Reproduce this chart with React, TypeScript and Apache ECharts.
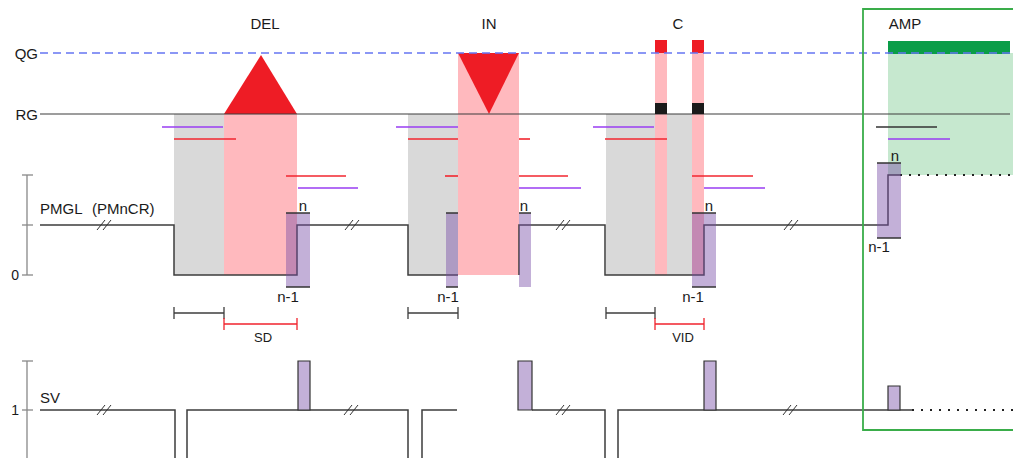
import React, { useEffect, useRef } from "react";
import * as echarts from "echarts";

const W = 1013;
const H = 458;

// Schematic in diagram units (x: genome position, y: track level, top = 0)
const grayRegions = [[174, 114, 224, 275], [408, 114, 458, 275], [606, 114, 692, 275]];
const pinkRegions = [[224, 114, 297, 275], [458, 53, 519, 275], [655, 40, 667, 275], [692, 40, 704, 275]];
const ampLight = [[888, 53, 1013, 175]];
const ampDark = [[888, 41, 1010, 54]];
const blackSquares = [[655, 103, 667, 114], [692, 103, 704, 114]];
const redCaps = [[655, 40, 667, 53], [692, 40, 704, 53]];
const delTriangle = [[224, 114], [261, 55], [297, 114]];
const inTriangle = [[458, 53], [519, 53], [489, 114]];

// purple read-depth blocks [x0, yTop, x1, yBottom, topCap, bottomCap]
const pmglBlocks = [
  [286, 213, 310, 287, 1, 1],
  [446, 213, 458, 287, 1, 1],
  [519, 213, 531, 287, 1, 0],
  [692, 213, 716, 287, 1, 1],
  [877, 163, 901, 238, 1, 1],
];
const svBlocks = [[298, 361, 310, 410], [518, 361, 532, 410], [704, 361, 716, 410], [888, 386, 900, 410]];

const redLines = [
  [174, 139, 236], [286, 176, 346],
  [408, 139, 458], [519, 139, 530], [445, 176, 458], [519, 176, 568],
  [605, 139, 667], [692, 176, 753],
];
const purpleLines = [[162, 127, 223], [298, 188, 358], [396, 127, 458], [519, 188, 581], [593, 127, 654], [704, 188, 765], [888, 139, 950]];
const blackLines = [[876, 127, 937]];

const pmglPaths = [
  [[40, 225], [174, 225], [174, 275], [297, 275], [297, 225], [408, 225], [408, 275], [458, 275]],
  [[519, 275], [519, 225], [605, 225], [605, 275], [704, 275], [704, 225], [888, 225], [888, 175], [900, 175]],
];
const svPaths = [
  [[40, 410], [175, 410], [175, 462]],
  [[187, 462], [187, 410], [408, 410], [408, 462]],
  [[422, 462], [422, 410], [457, 410]],
  [[532, 410], [605, 410], [605, 462]],
  [[618, 462], [618, 410], [912, 410]],
];
const dottedPaths = [[[900, 175], [1013, 175]], [[912, 410], [1013, 410]]];
const rgPath = [[[40, 114], [1010, 114]]];
const qgPath = [[[40, 53], [1013, 53]]];
const axisPaths = [
  [[27, 175], [27, 275]], [[22, 175], [33, 175]], [[22, 225], [33, 225]], [[22, 275], [33, 275]],
  [[27, 361], [27, 462]], [[22, 361], [33, 361]], [[22, 410], [33, 410]],
];
const breakCenters = [[104, 225], [352, 225], [563, 225], [791, 225], [104, 410], [351, 410], [563, 410], [790, 410]];
const blackBars = [[174, 224, 313], [408, 458, 313], [606, 655, 313]];
const redBars = [[224, 297, 324], [655, 704, 324]];
const greenBox = [[863, 9, 1022, 430]];

// texts [x, y, label, align, size]
const labels: [number, number, string, string, number][] = [
  [265, 23, "DEL", "center", 15],
  [489, 23, "IN", "center", 15],
  [678, 23, "C", "center", 15],
  [905, 23, "AMP", "center", 15],
  [38, 53, "QG", "right", 15],
  [38, 114, "RG", "right", 15],
  [40, 208, "PMGL", "left", 15],
  [92, 208, "(PMnCR)", "left", 15],
  [40, 397, "SV", "left", 15],
  [19, 275, "0", "right", 14],
  [19, 410, "1", "right", 14],
  [303, 205, "n", "center", 15],
  [524, 205, "n", "center", 15],
  [709, 205, "n", "center", 15],
  [895, 155, "n", "center", 15],
  [288, 296, "n-1", "center", 15],
  [448, 296, "n-1", "center", 15],
  [693, 296, "n-1", "center", 15],
  [879, 246, "n-1", "center", 15],
  [263, 337, "SD", "center", 13],
  [683, 337, "VID", "center", 13],
];

const FONT = "'Liberation Sans', Arial, Helvetica, sans-serif";
const DARK = "#3d3d3d";

function rectSeries(arr: number[][], style: any, z = 1) {
  return {
    type: "custom",
    z,
    clip: false,
    data: arr.map((r) => [r[0], r[1]]),
    renderItem: (params: any, api: any) => {
      const r = arr[params.dataIndex];
      const p0 = api.coord([r[0], r[1]]);
      const p1 = api.coord([r[2], r[3]]);
      return {
        type: "rect",
        shape: { x: p0[0], y: Math.min(p0[1], p1[1]), width: p1[0] - p0[0], height: Math.abs(p1[1] - p0[1]) },
        style,
      };
    },
  };
}

function polySeries(paths: number[][][], style: any, z = 3, closed = false) {
  return {
    type: "custom",
    z,
    clip: false,
    data: paths.map((p) => [p[0][0], p[0][1]]),
    renderItem: (params: any, api: any) => {
      const pts = paths[params.dataIndex].map((p) => api.coord(p));
      return { type: closed ? "polygon" : "polyline", shape: { points: pts }, style };
    },
  };
}

const hLines = (arr: number[][]) => arr.map((l) => [[l[0], l[1]], [l[2], l[1]]]);
const barPaths = (arr: number[][], h: number) =>
  arr.flatMap((b) => [
    [[b[0], b[2]], [b[1], b[2]]],
    [[b[0], b[2] - h], [b[0], b[2] + h]],
    [[b[1], b[2] - h], [b[1], b[2] + h]],
  ]);
const breakPaths = breakCenters.flatMap((c) => [
  [[c[0] - 7, c[1] + 5], [c[0] + 1, c[1] - 5]],
  [[c[0] - 1, c[1] + 5], [c[0] + 7, c[1] - 5]],
]);
const capPaths = pmglBlocks.flatMap((b) => {
  const out: number[][][] = [];
  if (b[4]) out.push([[b[0], b[1]], [b[2], b[1]]]);
  if (b[5]) out.push([[b[0], b[3]], [b[2], b[3]]]);
  return out;
});

export default function App() {
  const ref = useRef<HTMLDivElement>(null);
  useEffect(() => {
    if (!ref.current) return;
    const chart = echarts.init(ref.current, undefined, { renderer: "svg" });
    chart.setOption({
      animation: false,
      backgroundColor: "#ffffff",
      grid: { left: 0, right: 0, top: 0, bottom: 0 },
      xAxis: { type: "value", min: 0, max: W, show: false },
      yAxis: { type: "value", min: 0, max: H, inverse: true, show: false },
      series: [
        rectSeries(grayRegions, { fill: "#d9d9d9" }, 1),
        rectSeries(pinkRegions, { fill: "#ffb9be" }, 2),
        rectSeries(ampLight, { fill: "#c6e8cf" }, 2),
        rectSeries(ampDark, { fill: "#0a9d48" }, 3),
        polySeries([delTriangle, inTriangle], { fill: "#ee1c25" }, 3, true),
        polySeries(hLines(redLines), { stroke: "#f2262f", lineWidth: 1.6, fill: null }, 4),
        polySeries(hLines(purpleLines), { stroke: "#983cf2", lineWidth: 1.6, fill: null }, 4),
        polySeries(hLines(blackLines), { stroke: "#333", lineWidth: 1.5, fill: null }, 4),
        polySeries(rgPath, { stroke: DARK, lineWidth: 1.2, fill: null }, 4),
        polySeries(pmglPaths, { stroke: DARK, lineWidth: 1.5, fill: null }, 5),
        polySeries(svPaths, { stroke: DARK, lineWidth: 1.5, fill: null }, 5),
        polySeries(dottedPaths, { stroke: "#222", lineWidth: 2, lineDash: [2, 7], fill: null }, 5),
        polySeries(axisPaths, { stroke: "#888", lineWidth: 1.3, fill: null }, 5),
        polySeries(breakPaths, { stroke: "#333", lineWidth: 1, fill: null }, 6),
        rectSeries(pmglBlocks, { fill: "rgba(118,75,166,0.44)" }, 6),
        polySeries(capPaths, { stroke: "#333", lineWidth: 1.5, fill: null }, 7),
        rectSeries(svBlocks, { fill: "#c3b0d8", stroke: "#333", lineWidth: 1.2 }, 6),
        rectSeries(blackSquares, { fill: "#1a1a1a" }, 7),
        rectSeries(redCaps, { fill: "#ee1c25" }, 7),
        polySeries(qgPath, { stroke: "#6676f2", lineWidth: 1.5, lineDash: [8, 5], fill: null }, 8),
        polySeries(barPaths(blackBars, 6), { stroke: DARK, lineWidth: 1.3, fill: null }, 6),
        polySeries(barPaths(redBars, 6), { stroke: "#f0222c", lineWidth: 1.3, fill: null }, 6),
        rectSeries(greenBox, { fill: null, stroke: "#3aad4a", lineWidth: 1.8 }, 9),
        {
          type: "custom",
          z: 10,
          clip: false,
          data: labels.map((l) => [l[0], l[1]]),
          renderItem: (params: any, api: any) => {
            const l = labels[params.dataIndex];
            const p = api.coord([l[0], l[1]]);
            return {
              type: "text",
              style: {
                text: l[2],
                x: p[0],
                y: p[1],
                align: l[3],
                verticalAlign: "middle",
                fontSize: l[4],
                fontFamily: FONT,
                fill: "#1a1a1a",
              },
            };
          },
        },
      ],
    });
    return () => chart.dispose();
  }, []);
  return <div ref={ref} style={{ position: "absolute", left: 0, top: 0, width: W, height: H }} />;
}
